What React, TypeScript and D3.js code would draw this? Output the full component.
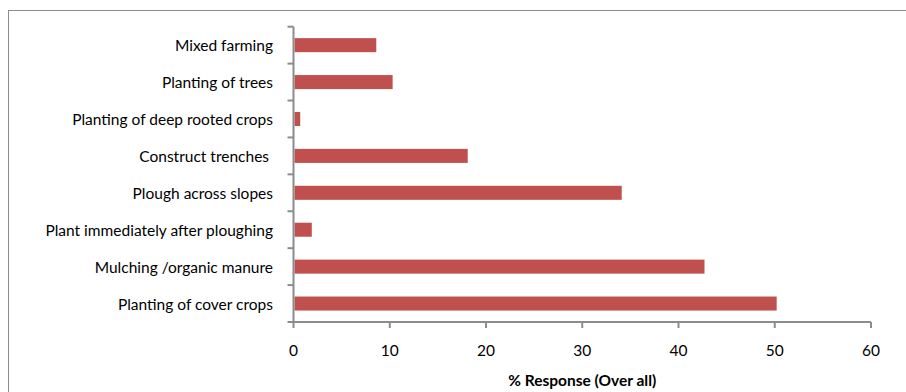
import React from "react";
import * as d3 from "d3";

const categories = [
  "Mixed farming",
  "Planting of trees",
  "Planting of deep rooted crops",
  "Construct trenches ",
  "Plough across slopes",
  "Plant immediately after ploughing",
  "Mulching /organic manure",
  "Planting of cover crops",
];
const responses = [8.6, 10.3, 0.7, 18.1, 34.1, 1.9, 42.7, 50.2];
const xTicks = [0, 10, 20, 30, 40, 50, 60];
const xTitle = "% Response (Over all)";

const W = 906;
const H = 392;
const plot = { left: 293.5, right: 871, top: 26.7, bottom: 322 };
const FONT = "Lato, 'Open Sans', sans-serif";
const FS = 15.5;
const AXIS = "#8c8c8c";

export default function App() {
  const x = d3.scaleLinear().domain([0, 60]).range([plot.left, plot.right]);
  const y = d3
    .scaleBand<string>()
    .domain(categories)
    .range([plot.top, plot.bottom])
    .paddingInner(0.62)
    .paddingOuter(0.31);
  const step = y.step();
  const boundaries = d3.range(categories.length + 1).map((i) => plot.top + i * step);

  return (
    <svg
      width={W}
      height={H}
      style={{ position: "absolute", left: 0, top: 0, display: "block" }}
    >
      <rect x={0} y={0} width={W} height={H} fill="#fff" />
      {/* chart frame */}
      <rect x={8.5} y={10.5} width={W + 10} height={H + 10} fill="none" stroke={AXIS} strokeWidth={1} />

      {/* bars */}
      {categories.map((c, i) => (
        <rect
          key={c}
          x={x(0) + 1}
          y={y(c)!}
          width={x(responses[i]) - x(0) - 1}
          height={y.bandwidth()}
          fill="#C0504D"
        />
      ))}

      {/* y axis */}
      <line x1={plot.left} x2={plot.left} y1={plot.top} y2={plot.bottom} stroke={AXIS} strokeWidth={2} />
      {boundaries.map((b, i) => (
        <line key={i} x1={plot.left - 6} x2={plot.left} y1={b} y2={b} stroke={AXIS} strokeWidth={2} />
      ))}
      {categories.map((c) => (
        <text
          key={c}
          x={273}
          y={y(c)! + y.bandwidth() / 2}
          textAnchor="end"
          dominantBaseline="central"
          fontFamily={FONT}
          fontSize={FS}
          fill="#000"
          style={{ whiteSpace: "pre" }}
        >
          {c}
        </text>
      ))}

      {/* x axis */}
      <line x1={plot.left} x2={plot.right} y1={plot.bottom} y2={plot.bottom} stroke={AXIS} strokeWidth={2} />
      {xTicks.map((t) => (
        <g key={t}>
          <line x1={x(t)} x2={x(t)} y1={plot.bottom} y2={plot.bottom + 6} stroke={AXIS} strokeWidth={2} />
          <text
            x={x(t)}
            y={356}
            textAnchor="middle"
            fontFamily={FONT}
            fontSize={FS}
            fill="#000"
          >
            {t}
          </text>
        </g>
      ))}
      <text
        x={(plot.left + plot.right) / 2}
        y={386}
        textAnchor="middle"
        fontFamily={FONT}
        fontSize={FS}
        fontWeight="bold"
        fill="#000"
      >
        {xTitle}
      </text>
    </svg>
  );
}
